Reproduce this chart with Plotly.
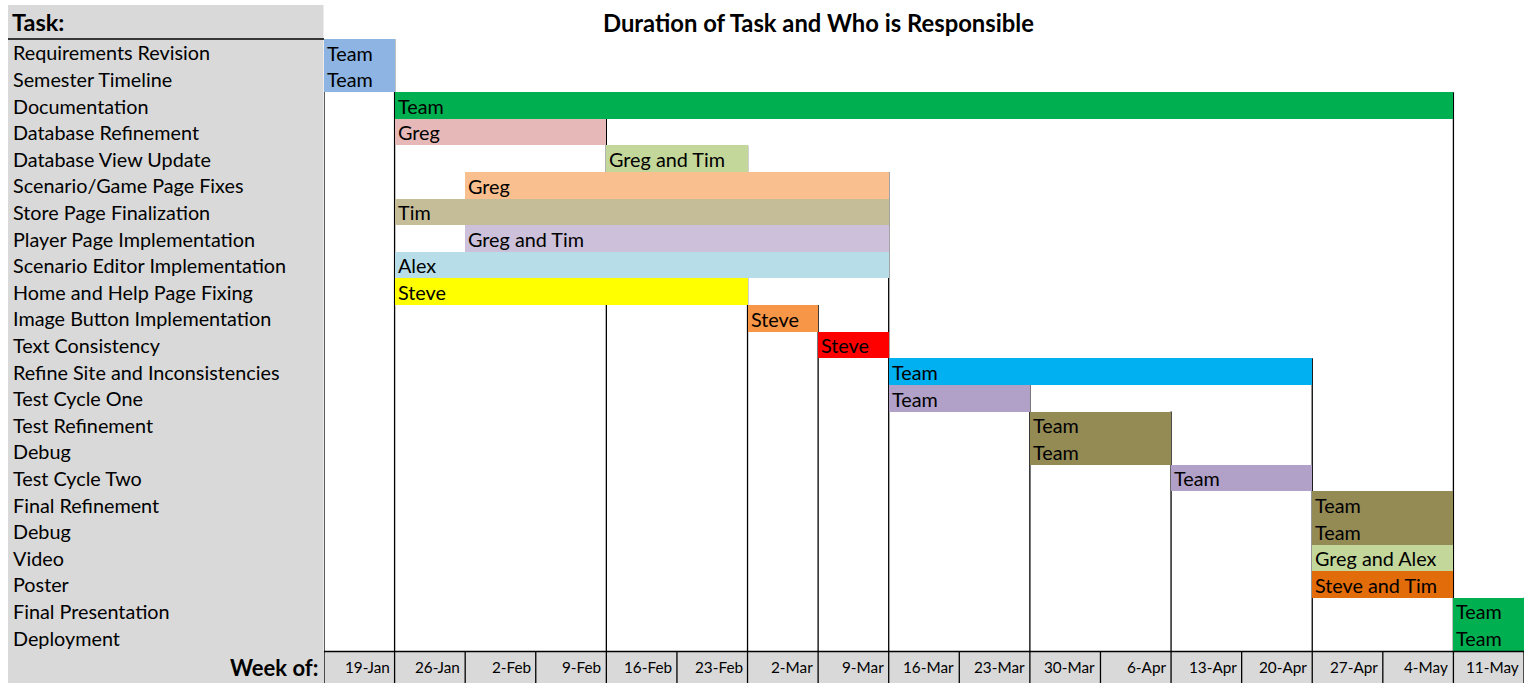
import plotly.graph_objects as go

W, H = 1537, 693

tasks = ["Requirements Revision", "Semester Timeline", "Documentation", "Database Refinement",
         "Database View Update", "Scenario/Game Page Fixes", "Store Page Finalization",
         "Player Page Implementation", "Scenario Editor Implementation", "Home and Help Page Fixing",
         "Image Button Implementation", "Text Consistency", "Refine Site and Inconsistencies",
         "Test Cycle One", "Test Refinement", "Debug", "Test Cycle Two", "Final Refinement",
         "Debug", "Video", "Poster", "Final Presentation", "Deployment"]
owners = ["Team", "Team", "Team", "Greg", "Greg and Tim", "Greg", "Tim", "Greg and Tim", "Alex",
          "Steve", "Steve", "Steve", "Team", "Team", "Team", "Team", "Team", "Team", "Team",
          "Greg and Alex", "Steve and Tim", "Team", "Team"]
start_week = [0, 0, 1, 1, 4, 2, 1, 2, 1, 1, 6, 7, 8, 8, 10, 10, 12, 14, 14, 14, 14, 16, 16]
end_week = [1, 1, 16, 4, 6, 8, 8, 8, 8, 6, 7, 8, 14, 10, 12, 12, 14, 16, 16, 16, 16, 17, 17]
colors = ["#8DB4E2", "#8DB4E2", "#00B050", "#E6B8B7", "#C4D79B", "#FABF8F", "#C4BD97",
          "#CCC0DA", "#B7DEE8", "#FFFF00", "#F79646", "#FF0000", "#00B0F0", "#B1A0C7",
          "#948A54", "#948A54", "#B1A0C7", "#948A54", "#948A54", "#C4D79B", "#E26B0A",
          "#00B050", "#00B050"]
weeks = ["19-Jan", "26-Jan", "2-Feb", "9-Feb", "16-Feb", "23-Feb", "2-Mar", "9-Mar", "16-Mar",
         "23-Mar", "30-Mar", "6-Apr", "13-Apr", "20-Apr", "27-Apr", "4-May", "11-May"]

FONT = "Lato"
LBL = 19.8
n = len(tasks)
nw = len(weeks)

def px(x):
    return x / W

def py(y):
    return 1 - y / H

fig = go.Figure()
fig.add_trace(go.Bar(
    y=list(range(n)),
    x=[e - s for s, e in zip(start_week, end_week)],
    base=start_week,
    orientation="h",
    width=1,
    marker=dict(color=colors, line=dict(width=0)),
    text=owners,
    textposition="inside",
    insidetextanchor="start",
    textangle=0,
    constraintext="none",
    textfont=dict(family=FONT, size=LBL, color="black"),
    hoverinfo="skip",
))

shapes = []
# left gray panel and bottom gray row
shapes.append(dict(type="rect", xref="paper", yref="paper", x0=px(8), x1=px(323.5),
                   y0=py(683), y1=py(5), fillcolor="#D9D9D9", line=dict(width=0), layer="below"))
shapes.append(dict(type="rect", xref="paper", yref="paper", x0=px(8), x1=px(1524),
                   y0=py(683), y1=py(651), fillcolor="#D9D9D9", line=dict(width=0), layer="below"))
# line under "Task:"
shapes.append(dict(type="line", xref="paper", yref="paper", x0=px(8), x1=px(324),
                   y0=py(39), y1=py(39), line=dict(color="black", width=1.3)))
# vertical borders: at left edge and at bars' right edges, from first bar top down
starts = {0: 0}
for i, e in enumerate(end_week):
    if e not in starts:
        starts[e] = i
for b, r in starts.items():
    shapes.append(dict(type="line", xref="x", yref="y", x0=b, x1=b, y0=r - 0.5, y1=n - 0.5,
                       line=dict(color="black", width=1.3), layer="below"))
# bottom row borders
shapes.append(dict(type="line", xref="x", yref="paper", x0=0, x1=nw, y0=py(651.5), y1=py(651.5),
                   line=dict(color="black", width=1.3)))
for b in range(nw + 1):
    shapes.append(dict(type="line", xref="x", yref="paper", x0=b, x1=b, y0=py(683), y1=py(651.5),
                       line=dict(color="black", width=1.3)))

annotations = []
for i, t in enumerate(tasks):
    annotations.append(dict(x=px(10.5), y=i, xref="paper", yref="y", text=t, showarrow=False,
                            xanchor="left", yanchor="middle",
                            font=dict(family=FONT, size=LBL, color="black")))
for j, w in enumerate(weeks):
    annotations.append(dict(x=j + 1, y=py(667), xref="x", yref="paper", text=w, showarrow=False,
                            xanchor="right", yanchor="middle", xshift=-3,
                            font=dict(family=FONT, size=15.3, color="black")))
annotations.append(dict(x=px(10), y=py(22), xref="paper", yref="paper", text="<b>Task:</b>",
                        showarrow=False, xanchor="left", yanchor="middle",
                        font=dict(family=FONT, size=23.5, color="black")))
annotations.append(dict(x=px(320), y=py(667), xref="paper", yref="paper", text="<b>Week of:</b>",
                        showarrow=False, xanchor="right", yanchor="middle",
                        font=dict(family=FONT, size=22, color="black")))
annotations.append(dict(x=px(818.5), y=py(23), xref="paper", yref="paper",
                        text="<b>Duration of Task and Who is Responsible</b>",
                        showarrow=False, xanchor="center", yanchor="middle",
                        font=dict(family=FONT, size=23.8, color="black")))

fig.update_layout(
    width=W, height=H, autosize=False,
    margin=dict(l=0, r=0, t=0, b=0, pad=0),
    paper_bgcolor="white", plot_bgcolor="rgba(0,0,0,0)",
    showlegend=False,
    xaxis=dict(domain=[px(324), px(1524)], range=[0, nw], showgrid=False, zeroline=False,
               showticklabels=False, ticks="", fixedrange=True),
    yaxis=dict(domain=[py(651), py(39)], range=[n - 0.5, -0.5], showgrid=False, zeroline=False,
               showticklabels=False, ticks="", fixedrange=True),
    shapes=shapes,
    annotations=annotations,
    uniformtext=dict(minsize=19, mode="show"),
    bargap=0,
)

fig.write_html("out.html", config={"displayModeBar": False})
